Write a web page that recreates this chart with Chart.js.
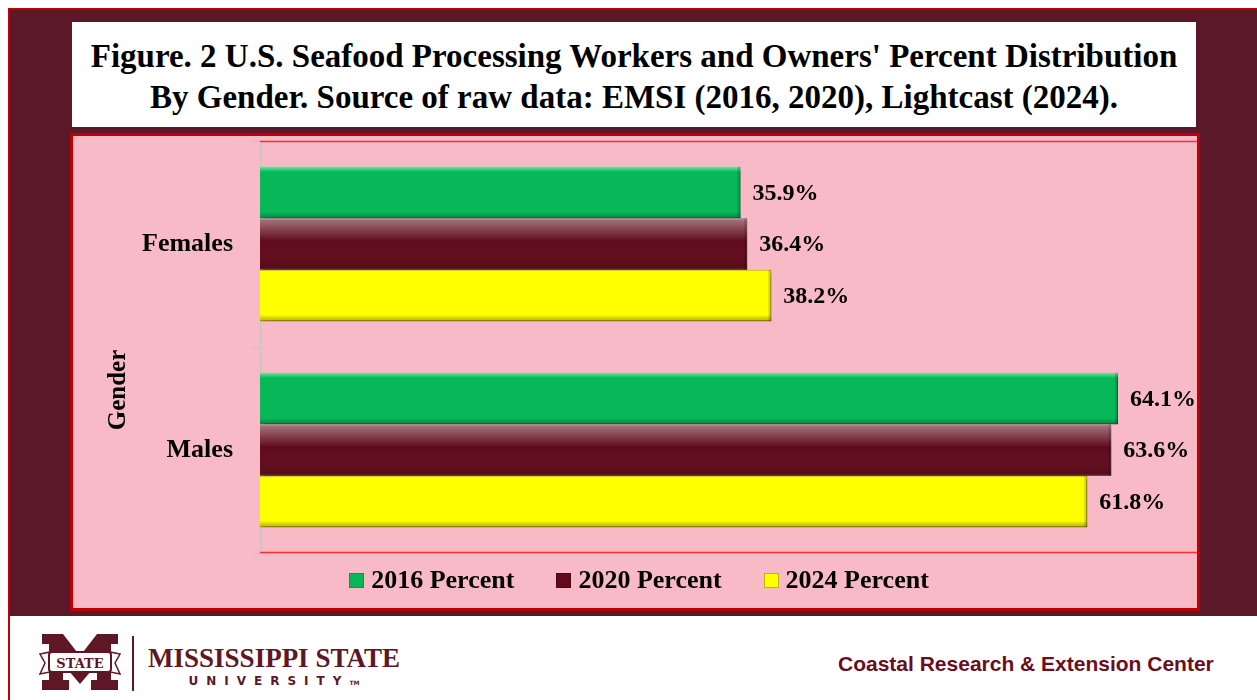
<!DOCTYPE html>
<html>
<head>
<meta charset="utf-8">
<script src="https://cdn.jsdelivr.net/npm/chart.js@4/dist/chart.umd.min.js"></script>
<style>
  body { margin: 0; width: 1257px; height: 700px; position: relative; background: #fff; overflow: hidden; font-family: "Liberation Serif", serif; }
  #frame { position: absolute; left: 8px; top: 8px; width: 1249px; height: 608px; background: #5b1828; border-top: 2px solid #c00000; border-left: 2px solid #c00000; box-sizing: border-box; }
  #titleBox { position: absolute; left: 72px; top: 22px; width: 1124px; height: 105px; background: #fff; text-align: center; font-weight: bold; font-size: 33px; line-height: 41px; padding-top: 14px; box-sizing: border-box; color: #000; white-space: nowrap; }
  #pink { position: absolute; left: 70px; top: 133px; width: 1130px; height: 478px; background: #f8bac6; border: 3px solid #c00000; box-sizing: border-box; }
  #chartWrap { position: absolute; left: 73px; top: 136px; width: 1124px; height: 472px; }
  #gender { position: absolute; left: 117px; top: 390px; transform: translate(-50%, -50%) rotate(-90deg); font-weight: bold; font-size: 25px; white-space: nowrap; }
  #legend { position: absolute; left: 74px; width: 1130px; top: 566px; height: 28px; display: flex; justify-content: center; align-items: center; font-weight: bold; font-size: 26px; }
  .item { display: flex; align-items: center; margin: 0 21px; white-space: nowrap; }
  .box { width: 15px; height: 15px; margin-right: 7px; box-sizing: border-box; }
  #bottomLine { position: absolute; left: 8px; top: 616px; width: 2px; height: 84px; background: #c00000; }
  #logo { position: absolute; left: 38px; top: 632px; }
  #vline { position: absolute; left: 132px; top: 636px; width: 2px; height: 55px; background: #5d1725; }
  #msu { position: absolute; left: 140px; top: 643px; width: 268px; text-align: center; color: #5d1725; font-weight: bold; white-space: nowrap; }
  #msu .l1 { font-family: "Liberation Serif", serif; font-size: 27px; line-height: 30px; }
  #msu .l2 { font-family: "DejaVu Sans", sans-serif; font-size: 12px; letter-spacing: 8px; line-height: 14px; margin-top: 1px; }
  #crec { position: absolute; left: 838px; top: 652px; font-family: "Liberation Sans", sans-serif; font-weight: bold; font-size: 21px; color: #6b0d1d; white-space: nowrap; }
</style>
</head>
<body>
<div id="frame"></div>
<div id="titleBox">Figure. 2 U.S. Seafood Processing Workers and Owners' Percent Distribution<br>By Gender. Source of raw data: EMSI (2016, 2020), Lightcast (2024).</div>
<div id="pink"></div>
<div id="chartWrap"><canvas id="chart"></canvas></div>
<div id="gender">Gender</div>
<div id="legend"></div>
<div id="bottomLine"></div>
<svg id="logo" width="84" height="62" viewBox="0 0 84 62">
  <polygon fill="#5d1725" points="4,2 25,2 42,24 59,2 80,2 80,12 73,12 73,48 80,48 80,58 53,58 53,48 59,48 59,32 42,52 25,32 25,48 31,48 31,58 4,58 4,48 11,48 11,12 4,12"/>
  <path d="M2,22 L12,20 L12,40 L2,42 L7,31 Z" fill="#fff" stroke="#5d1725" stroke-width="1.5"/>
  <path d="M82,22 L72,20 L72,40 L82,42 L77,31 Z" fill="#fff" stroke="#5d1725" stroke-width="1.5"/>
  <rect x="11" y="20" width="62" height="20" rx="3" fill="#fff" stroke="#5d1725" stroke-width="2"/>
  <text x="42" y="35.5" text-anchor="middle" font-family="DejaVu Serif" font-weight="bold" font-size="13" fill="#5d1725">STATE</text>
</svg>
<div id="vline"></div>
<div id="msu"><div class="l1">MISSISSIPPI STATE</div><div class="l2">UNIVERSITY<span style="font-size:6px;letter-spacing:0">TM</span></div></div>
<div id="crec">Coastal Research &amp; Extension Center</div>
<script>
var categories = ['Females', 'Males'];
var seriesNames = ['2016 Percent', '2020 Percent', '2024 Percent'];
var pct2016 = [35.9, 64.1];
var pct2020 = [36.4, 63.6];
var pct2024 = [38.2, 61.8];

var fills = ['#07b859', '#600a1b', '#ffff00'];
var edges = ['#049a48', '#4a0612', '#b8b800'];

// bevel look + value labels
var barDecor = {
	id: 'barDecor',
	beforeDatasetsDraw: function(chart) {
		var ctx = chart.ctx;
		ctx.save();
		ctx.shadowColor = 'rgba(0,0,0,0.35)';
		ctx.shadowOffsetX = 2;
		ctx.shadowOffsetY = 3;
		ctx.shadowBlur = 3;
	},
	afterDatasetsDraw: function(chart) {
		var ctx = chart.ctx;
		ctx.restore();
		chart.data.datasets.forEach(function(ds, di) {
			var meta = chart.getDatasetMeta(di);
			meta.data.forEach(function(bar, i) {
				var p = bar.getProps(['x', 'y', 'base', 'height'], true);
				var top = p.y - p.height / 2, h = p.height;
				var g = ctx.createLinearGradient(0, top, 0, top + h);
				if (di == 0) {
					g.addColorStop(0, 'rgba(140,255,190,0.7)');
					g.addColorStop(0.1, 'rgba(140,255,190,0)');
					g.addColorStop(0.88, 'rgba(0,0,0,0)');
					g.addColorStop(1, 'rgba(0,60,20,0.35)');
				} else if (di == 1) {
					g.addColorStop(0, 'rgba(255,255,255,0.45)');
					g.addColorStop(0.45, 'rgba(255,255,255,0)');
					g.addColorStop(1, 'rgba(0,0,0,0.1)');
				} else {
					g.addColorStop(0, 'rgba(255,255,255,0)');
					g.addColorStop(0.88, 'rgba(0,0,0,0)');
					g.addColorStop(1, 'rgba(110,110,0,0.45)');
				}
				ctx.fillStyle = g;
				ctx.fillRect(p.base, top, p.x - p.base, h);
				ctx.fillStyle = 'rgba(0,0,0,0.15)';
				ctx.fillRect(p.x - 3, top, 3, h);

				ctx.fillStyle = '#000';
				ctx.font = 'bold 24px "Liberation Serif"';
				ctx.textAlign = 'left';
				ctx.textBaseline = 'middle';
				ctx.fillText(ds.data[i].toFixed(1) + '%', p.x + 12, p.y + 1);
			});
		});
		// red rule lines at top and bottom of plot
		var a = chart.chartArea;
		ctx.save();
		ctx.strokeStyle = '#ff2d2d';
		ctx.lineWidth = 1.5;
		ctx.beginPath();
		ctx.moveTo(a.left, a.top + 0.5);
		ctx.lineTo(a.right, a.top + 0.5);
		ctx.moveTo(a.left, a.bottom - 0.5);
		ctx.lineTo(a.right, a.bottom - 0.5);
		ctx.stroke();
		ctx.restore();
	}
};

var chart = new Chart(document.getElementById('chart'), {
	type: 'bar',
	data: {
		labels: categories,
		datasets: [
			{ label: seriesNames[0], data: pct2016, backgroundColor: fills[0], borderColor: edges[0], borderWidth: 1 },
			{ label: seriesNames[1], data: pct2020, backgroundColor: fills[1], borderColor: edges[1], borderWidth: 1 },
			{ label: seriesNames[2], data: pct2024, backgroundColor: fills[2], borderColor: edges[2], borderWidth: 1 }
		]
	},
	options: {
		indexAxis: 'y',
		responsive: true,
		maintainAspectRatio: false,
		animation: false,
		categoryPercentage: 0.75,
		barPercentage: 1.0,
		layout: { padding: { top: 5, right: 0, bottom: 55, left: 0 } },
		plugins: { legend: { display: false }, tooltip: { enabled: false } },
		scales: {
			x: { display: false, min: 0, max: 70 },
			y: {
				afterFit: function(scale) {
					scale.width = 187;
					scale.paddingTop = 0;
					scale.paddingBottom = 0;
				},
				ticks: { color: '#000', font: { family: 'Liberation Serif', weight: 'bold', size: 26 }, padding: 19 },
				grid: { offset: true, drawOnChartArea: false, tickLength: 8, color: '#c4c4c4' },
				border: { color: '#c4c4c4' }
			}
		}
	},
	plugins: [barDecor]
});

// legend built from the datasets
var legend = document.getElementById('legend');
chart.data.datasets.forEach(function(ds) {
	var item = document.createElement('div');
	item.className = 'item';
	item.innerHTML = '<div class="box" style="background:' + ds.backgroundColor + ';border:1px solid ' + ds.borderColor + '"></div>' + ds.label;
	legend.appendChild(item);
});
</script>
</body>
</html>
